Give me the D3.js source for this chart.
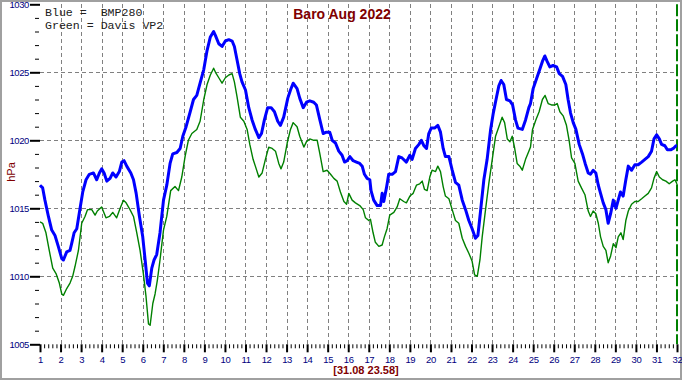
<!DOCTYPE html>
<html>
<head>
<meta charset="utf-8">
<script src="https://cdn.jsdelivr.net/npm/d3@7"></script>
<style>
  html, body { margin: 0; padding: 0; background: #fff; }
  svg { display: block; }
</style>
</head>
<body>
<svg id="chart" width="682" height="380"></svg>
<script>
// BMP280 (blue) - day of month / hPa
const bmpDay = [1.00,1.13,1.24,1.41,1.57,1.73,1.89,2.06,2.14,2.30,2.46,2.54,2.66,2.79,2.95,3.08,3.24,3.40,3.60,3.76,3.89,4.00,4.12,4.25,4.41,4.54,4.70,4.86,4.98,5.09,5.22,5.42,5.55,5.68,5.84,6.00,6.13,6.23,6.32,6.44,6.55,6.68,6.84,7.01,7.17,7.33,7.46,7.66,7.82,7.95,8.11,8.31,8.47,8.63,8.79,8.97,9.13,9.29,9.45,9.54,9.70,9.86,10.02,10.19,10.35,10.46,10.59,10.72,10.83,11.00,11.16,11.32,11.48,11.65,11.78,11.92,12.08,12.25,12.41,12.57,12.70,12.86,13.06,13.19,13.32,13.51,13.64,13.81,13.97,14.13,14.32,14.45,14.62,14.78,14.94,15.10,15.22,15.38,15.54,15.70,15.82,15.95,16.08,16.24,16.40,16.56,16.68,16.79,16.92,17.05,17.11,17.24,17.41,17.57,17.65,17.73,17.86,17.97,18.14,18.30,18.46,18.62,18.83,19.00,19.11,19.27,19.44,19.56,19.68,19.81,19.92,20.04,20.20,20.36,20.49,20.62,20.73,20.90,21.06,21.22,21.38,21.55,21.71,21.87,22.03,22.19,22.31,22.44,22.60,22.76,22.93,23.06,23.22,23.33,23.44,23.57,23.70,23.87,24.00,24.14,24.26,24.47,24.63,24.79,24.87,25.00,25.16,25.32,25.45,25.57,25.68,25.81,25.97,26.14,26.27,26.43,26.59,26.70,26.82,26.95,27.08,27.24,27.40,27.53,27.68,27.79,27.92,28.05,28.17,28.28,28.41,28.54,28.65,28.77,28.90,29.03,29.14,29.25,29.38,29.51,29.63,29.79,29.95,30.11,30.28,30.44,30.60,30.76,30.88,31.01,31.14,31.25,31.41,31.53,31.69,31.82,31.95,32.00];
const bmpHpa = [1016.7,1016.5,1015.6,1014.4,1013.4,1013.0,1012.2,1011.3,1011.2,1011.8,1011.9,1012.4,1013.2,1013.5,1015.0,1016.2,1017.1,1017.5,1017.6,1017.1,1017.6,1017.9,1017.6,1017.0,1017.2,1017.6,1017.3,1017.7,1018.4,1018.5,1018.1,1017.6,1017.1,1016.1,1014.4,1012.9,1011.0,1009.5,1009.3,1010.6,1011.2,1011.6,1013.2,1015.6,1016.7,1018.3,1019.0,1019.1,1019.4,1020.3,1021.0,1022.1,1023.0,1023.3,1024.2,1025.2,1026.6,1027.6,1028.0,1027.7,1027.1,1026.9,1027.3,1027.4,1027.3,1026.9,1025.9,1024.9,1024.3,1023.7,1022.4,1021.5,1020.8,1020.2,1020.5,1021.5,1022.4,1022.4,1022.1,1021.4,1021.1,1021.7,1023.1,1023.7,1024.2,1023.8,1023.1,1022.4,1022.8,1022.9,1022.8,1022.6,1021.5,1020.5,1020.6,1020.6,1020.0,1019.8,1019.2,1018.9,1018.4,1018.5,1018.8,1018.5,1018.4,1018.3,1018.1,1017.5,1017.2,1017.1,1016.3,1015.6,1015.2,1015.2,1016.1,1015.5,1016.5,1017.5,1017.5,1017.7,1018.8,1018.7,1018.4,1018.9,1018.6,1019.4,1019.7,1020.0,1019.6,1019.4,1020.5,1020.9,1020.9,1021.1,1020.6,1019.4,1018.8,1018.8,1017.8,1016.9,1016.7,1015.6,1014.9,1014.1,1013.5,1012.8,1013.0,1014.8,1017.1,1018.6,1020.8,1022.0,1023.2,1024.0,1024.4,1024.1,1023.0,1022.9,1022.6,1021.5,1020.9,1020.8,1021.5,1022.4,1022.7,1023.8,1024.5,1025.2,1025.8,1026.2,1025.8,1025.4,1025.5,1025.4,1024.9,1024.7,1024.1,1023.0,1022.0,1021.3,1020.8,1019.7,1019.0,1018.3,1017.6,1017.5,1017.8,1017.6,1016.7,1016.1,1015.4,1014.9,1013.9,1014.6,1015.6,1015.0,1015.6,1016.2,1015.9,1017.1,1018.1,1017.8,1018.2,1018.2,1018.4,1018.6,1018.8,1019.2,1020.1,1020.4,1020.1,1019.7,1019.6,1019.3,1019.3,1019.4,1019.6,1019.6];

// Davis VP2 (green)
const vp2Day = [1.00,1.13,1.29,1.45,1.62,1.78,1.94,2.06,2.14,2.30,2.46,2.59,2.70,2.87,3.03,3.19,3.31,3.52,3.68,3.79,4.00,4.21,4.38,4.54,4.73,4.90,5.06,5.19,5.38,5.55,5.71,5.87,6.03,6.16,6.28,6.36,6.49,6.60,6.71,6.84,7.01,7.17,7.36,7.57,7.74,7.90,8.06,8.22,8.39,8.63,8.79,8.97,9.13,9.29,9.45,9.54,9.70,9.86,10.02,10.19,10.35,10.46,10.59,10.75,10.92,11.08,11.21,11.37,11.48,11.65,11.81,11.97,12.13,12.30,12.46,12.62,12.73,12.86,13.03,13.19,13.32,13.51,13.64,13.84,13.97,14.13,14.32,14.49,14.62,14.78,14.97,15.14,15.30,15.46,15.62,15.79,15.92,16.03,16.19,16.35,16.56,16.73,16.84,17.00,17.08,17.21,17.32,17.49,17.65,17.76,17.89,18.02,18.22,18.38,18.51,18.70,18.83,19.00,19.16,19.32,19.48,19.60,19.71,19.84,19.97,20.08,20.25,20.36,20.49,20.62,20.73,20.90,21.06,21.22,21.38,21.55,21.71,21.87,22.03,22.15,22.28,22.41,22.52,22.69,22.84,23.01,23.17,23.33,23.49,23.61,23.74,23.87,23.98,24.09,24.22,24.35,24.47,24.63,24.79,24.87,24.97,25.13,25.29,25.45,25.58,25.73,25.89,26.06,26.17,26.30,26.46,26.62,26.75,26.87,27.03,27.19,27.35,27.52,27.68,27.79,27.92,28.05,28.17,28.28,28.41,28.54,28.65,28.77,28.90,29.03,29.14,29.27,29.38,29.51,29.63,29.79,29.95,30.11,30.28,30.44,30.60,30.76,30.88,31.01,31.14,31.30,31.46,31.62,31.79,31.90,32.00];
const vp2Hpa = [1014.0,1013.9,1013.2,1011.9,1010.6,1010.2,1009.5,1008.7,1008.6,1009.1,1009.5,1010.0,1010.7,1011.9,1013.9,1014.4,1014.9,1014.9,1014.5,1014.8,1015.1,1014.3,1014.4,1014.7,1014.3,1015.0,1015.6,1015.4,1014.9,1014.4,1013.2,1011.9,1010.2,1008.5,1006.5,1006.4,1008.0,1008.7,1009.7,1011.2,1013.4,1014.4,1016.3,1016.6,1016.3,1017.3,1018.8,1020.0,1020.5,1020.8,1021.4,1023.0,1024.1,1024.8,1025.3,1025.0,1024.6,1024.2,1024.6,1024.8,1024.9,1024.3,1023.2,1021.7,1021.4,1020.8,1019.7,1018.6,1018.1,1017.3,1017.6,1018.6,1019.5,1019.4,1019.2,1018.3,1017.9,1018.4,1019.8,1020.8,1021.3,1021.0,1020.3,1019.5,1019.9,1020.1,1020.0,1020.0,1019.0,1017.7,1017.8,1017.5,1017.2,1017.0,1016.2,1015.5,1015.3,1016.1,1015.6,1015.4,1015.2,1014.9,1014.3,1014.1,1014.2,1013.2,1012.5,1012.2,1012.3,1012.9,1013.5,1014.5,1014.7,1015.1,1015.7,1015.5,1015.4,1015.9,1016.1,1016.7,1016.8,1017.0,1016.4,1016.3,1017.3,1017.8,1017.7,1018.1,1017.7,1016.6,1015.9,1015.7,1014.9,1014.1,1013.9,1012.8,1012.2,1011.7,1011.1,1010.1,1010.0,1011.2,1012.9,1015.0,1016.8,1018.6,1020.3,1021.0,1021.7,1021.3,1020.1,1019.9,1020.3,1019.5,1018.3,1018.1,1017.8,1018.6,1019.2,1019.5,1020.8,1021.5,1022.1,1023.0,1023.3,1022.7,1022.6,1022.6,1022.7,1022.1,1021.8,1021.1,1020.0,1018.7,1018.3,1017.0,1016.5,1016.0,1014.8,1014.4,1014.8,1014.6,1013.9,1012.9,1012.2,1011.9,1011.0,1011.5,1012.4,1012.1,1012.9,1013.2,1012.7,1014.1,1014.8,1015.3,1015.5,1015.5,1015.7,1015.9,1016.1,1016.5,1017.2,1017.7,1017.3,1017.1,1017.0,1016.8,1017.0,1017.1,1016.8];

const dayTicks = d3.range(1, 33);           // 1 .. 32
const hpaMajor = [1005, 1010, 1015, 1020, 1025, 1030];
const hpaMinor = d3.range(1005, 1031);
const title = 'Baro Aug 2022';
const legendLines = ['Blue =  BMP280', 'Green = Davis VP2'];
const stampLabel = '[31.08 23.58]';
const nowDay = 32;

const W = 682, H = 380;
const svg = d3.select('#chart');

const x = d3.scaleLinear().domain([1, 32]).range([40, 677]);
const y = d3.scaleLinear().domain([1005, 1030]).range([344.3, 4.3]);

// frame
svg.append('rect')
  .attr('x', 1).attr('y', 1).attr('width', W - 2).attr('height', H - 2)
  .attr('fill', '#fff').attr('stroke', '#a0a0a0').attr('stroke-width', 2);

// grid
const grid = svg.append('g')
  .attr('stroke', '#808080')
  .attr('stroke-width', 1)
  .attr('stroke-dasharray', '4,3')
  .attr('shape-rendering', 'crispEdges');

grid.selectAll('line.v')
  .data(dayTicks.filter(d => d > 1 && d < 32))
  .join('line')
  .attr('class', 'v')
  .attr('x1', d => Math.round(x(d)) + 0.5).attr('x2', d => Math.round(x(d)) + 0.5)
  .attr('y1', y(1030)).attr('y2', y(1005));

grid.selectAll('line.h')
  .data(hpaMajor.filter(v => v > 1005 && v < 1030))
  .join('line')
  .attr('class', 'h')
  .attr('x1', x(1)).attr('x2', x(32))
  .attr('y1', d => Math.round(y(d)) + 0.5).attr('y2', d => Math.round(y(d)) + 0.5);

// current time marker
svg.append('line')
  .attr('x1', x(nowDay)).attr('x2', x(nowDay))
  .attr('y1', y(1030)).attr('y2', y(1005))
  .attr('stroke', '#008000').attr('stroke-width', 2)
  .attr('stroke-dasharray', '12,3');

// axes
const fontAxis = '"Liberation Sans", Arial, sans-serif';

const yMinor = svg.append('g')
  .attr('transform', 'translate(39,0)')
  .call(d3.axisLeft(y).tickValues(hpaMinor.filter(v => v % 5 !== 0)).tickSize(4).tickFormat(''));
const yMajor = svg.append('g')
  .attr('transform', 'translate(40,0)')
  .call(d3.axisLeft(y).tickValues(hpaMajor).tickSize(10).tickPadding(1).tickFormat(d3.format('d')));

const minorDays = [];
dayTicks.slice(0, -1).forEach(d => { for (let k = 1; k < 5; k++) minorDays.push(d + k / 5); });
const xMinor = svg.append('g')
  .attr('transform', `translate(0,${y(1005)})`)
  .call(d3.axisBottom(x).tickValues(minorDays).tickSize(4).tickFormat(''));
const xMajor = svg.append('g')
  .attr('transform', `translate(0,${y(1005)})`)
  .call(d3.axisBottom(x).tickValues(dayTicks).tickSize(8).tickPadding(4).tickFormat(d3.format('d')));

[yMinor, yMajor, xMinor, xMajor].forEach(g => {
  g.select('.domain').remove();
  g.selectAll('.tick line').attr('stroke', '#000');
});
xMajor.selectAll('.tick line').attr('stroke-width', 2);
yMajor.selectAll('.tick line').attr('stroke-width', 2);
[yMajor, xMajor].forEach(g => g.selectAll('text')
  .attr('fill', '#000080')
  .style('font-family', fontAxis)
  .style('font-size', '9.5px')
  .style('letter-spacing', '-0.4px'));

// lines
const line = d3.line()
  .x(d => x(d[0]))
  .y(d => y(d[1]));

svg.append('path')
  .datum(d3.zip(vp2Day, vp2Hpa))
  .attr('fill', 'none')
  .attr('stroke', '#008000')
  .attr('stroke-width', 1.4)
  .attr('stroke-linejoin', 'round')
  .attr('d', line);

svg.append('path')
  .datum(d3.zip(bmpDay, bmpHpa))
  .attr('fill', 'none')
  .attr('stroke', '#0000ff')
  .attr('stroke-width', 3)
  .attr('stroke-linejoin', 'round')
  .attr('d', line);

// texts
svg.append('text')
  .attr('x', 342).attr('y', 18.5)
  .attr('text-anchor', 'middle')
  .attr('fill', '#800000')
  .style('font-family', fontAxis)
  .style('font-weight', 'bold')
  .style('font-size', '14px')
  .text(title);

svg.selectAll('text.legend')
  .data(legendLines)
  .join('text')
  .attr('class', 'legend')
  .attr('x', 45)
  .attr('y', (d, i) => 16 + i * 13.3)
  .attr('fill', '#202020')
  .style('white-space', 'pre')
  .style('font-family', '"Liberation Mono", "Courier New", monospace')
  .style('font-size', '11.6px')
  .text(d => d);

svg.append('text')
  .attr('transform', 'translate(15,172) rotate(-90)')
  .attr('text-anchor', 'middle')
  .attr('fill', '#800000')
  .style('font-family', fontAxis)
  .style('font-size', '11px')
  .text('hPa');

svg.append('text')
  .attr('x', 366).attr('y', 373.5)
  .attr('text-anchor', 'middle')
  .attr('fill', '#800000')
  .style('font-family', fontAxis)
  .style('font-weight', 'bold')
  .style('font-size', '11px')
  .text(stampLabel);
</script>
</body>
</html>
